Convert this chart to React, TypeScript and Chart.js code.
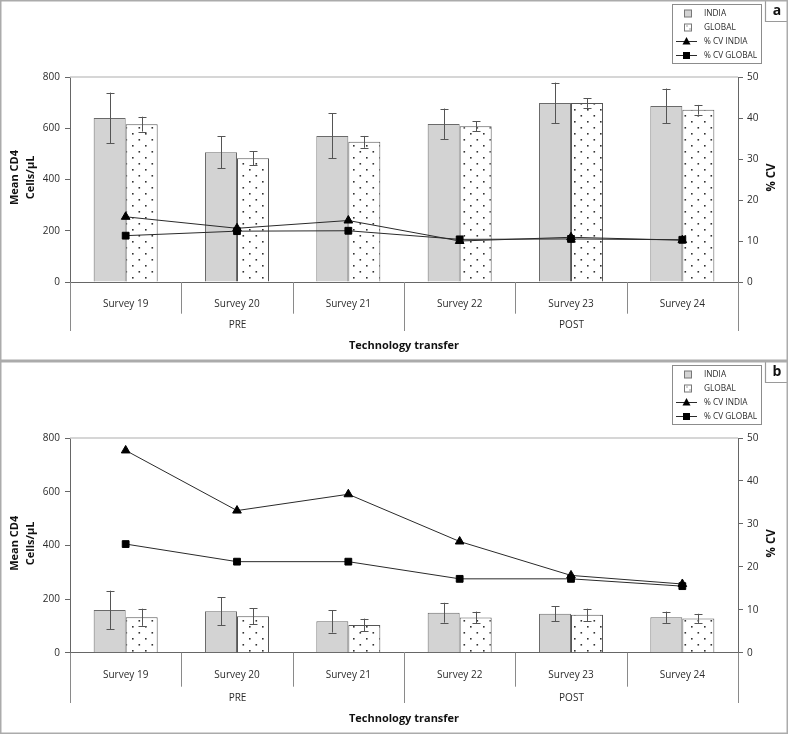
import React, { useEffect, useRef } from "react";
import { Chart, registerables } from "chart.js";

Chart.register(...registerables);

// ---------- data ----------
const categories = ["Survey 19", "Survey 20", "Survey 21", "Survey 22", "Survey 23", "Survey 24"];
const groupLabels = ["PRE", "POST"];
const groupSpans = [3, 3];
const leftTicks = { min: 0, max: 800, step: 200 };
const rightTicks = { min: 0, max: 50, step: 10 };
const legendLabels = ["INDIA", "GLOBAL", "% CV INDIA", "% CV GLOBAL"];

// panel a
const aIndiaMean = [640, 506, 570, 617, 699, 687];
const aIndiaErr = [99, 62, 88, 60, 79, 68];
const aGlobalMean = [616, 483, 547, 608, 699, 672];
const aGlobalErr = [29, 27, 23, 20, 19, 19];
const aCvIndia = [15.9, 13.1, 15.0, 10.0, 10.9, 10.2];
const aCvGlobal = [11.3, 12.4, 12.5, 10.4, 10.5, 10.3];

// panel b
const bIndiaMean = [159, 154, 117, 149, 145, 132];
const bIndiaErr = [72, 52, 42, 37, 28, 21];
const bGlobalMean = [132, 136, 103, 131, 141, 127];
const bGlobalErr = [32, 30, 24, 22, 23, 18];
const bCvIndia = [47.1, 33.1, 36.9, 25.9, 18.0, 16.0];
const bCvGlobal = [25.3, 21.2, 21.2, 17.2, 17.2, 15.5];

const FONT = "'Open Sans', 'DejaVu Sans', sans-serif";
const INDIA_FILL = "#d3d3d3";
const BAR_BORDER = "#6a6a6a";
const LINE_COLOR = "#2a2a2a";
const AXIS_COLOR = "#666666";
const TEXT_COLOR = "#2b2b2b";

function makeDotPattern(ctx: CanvasRenderingContext2D): CanvasPattern | string {
  const c = document.createElement("canvas");
  c.width = 13;
  c.height = 12;
  const p = c.getContext("2d");
  if (!p) return "#fff";
  p.fillStyle = "#ffffff";
  p.fillRect(0, 0, 13, 12);
  p.fillStyle = "#333333";
  p.fillRect(2, 1, 1.6, 1.6);
  p.fillRect(8.5, 7, 1.6, 1.6);
  return ctx.createPattern(c, "repeat") || "#fff";
}

type PanelCfg = {
  letter: string;
  height: number;
  padTop: number;
  xHeight: number;
  shortLen: number;
  longLen: number;
  groupDy: number;
  titleDy: number;
  indiaMean: number[];
  indiaErr: number[];
  globalMean: number[];
  globalErr: number[];
  cvIndia: number[];
  cvGlobal: number[];
};

function Panel({ cfg }: { cfg: PanelCfg }) {
  const ref = useRef<HTMLCanvasElement | null>(null);

  useEffect(() => {
    const canvas = ref.current;
    if (!canvas) return;
    const ctx0 = canvas.getContext("2d");
    if (!ctx0) return;
    const pattern = makeDotPattern(ctx0);
    const errs = [cfg.indiaErr, cfg.globalErr];

    const decor = {
      id: "decor",
      afterDatasetDraw(chart: any, args: any) {
        const meta = args.meta;
        if (meta.type !== "bar") return;
        const err = errs[args.index];
        if (!err) return;
        const ctx = chart.ctx;
        const ys = chart.scales.y;
        ctx.save();
        ctx.strokeStyle = "#555555";
        ctx.lineWidth = 1;
        meta.data.forEach((bar: any, i: number) => {
          const v = chart.data.datasets[args.index].data[i];
          const yTop = ys.getPixelForValue(v + err[i]);
          const yBot = ys.getPixelForValue(v - err[i]);
          const x = Math.round(bar.x) + 0.5;
          ctx.beginPath();
          ctx.moveTo(x, yTop);
          ctx.lineTo(x, yBot);
          ctx.moveTo(x - 4, Math.round(yTop) + 0.5);
          ctx.lineTo(x + 4, Math.round(yTop) + 0.5);
          ctx.moveTo(x - 4, Math.round(yBot) + 0.5);
          ctx.lineTo(x + 4, Math.round(yBot) + 0.5);
          ctx.stroke();
        });
        ctx.restore();
      },
      afterDraw(chart: any) {
        const ctx = chart.ctx;
        const ca = chart.chartArea;
        const xs = chart.scales.x;
        const n = categories.length;
        ctx.save();
        // top light line
        ctx.strokeStyle = "#c9c9c9";
        ctx.lineWidth = 1.5;
        ctx.beginPath();
        ctx.moveTo(ca.left, ca.top);
        ctx.lineTo(ca.right, ca.top);
        ctx.stroke();

        // category boundaries
        const bx: number[] = [];
        for (let i = 0; i <= n; i++) {
          let x;
          if (i === 0) x = ca.left;
          else if (i === n) x = ca.right;
          else x = (xs.getPixelForValue(i - 1) + xs.getPixelForValue(i)) / 2;
          bx.push(Math.round(x) + 0.5);
        }
        const groupIdx: number[] = [0];
        let acc = 0;
        groupSpans.forEach((s) => {
          acc += s;
          groupIdx.push(acc);
        });
        ctx.strokeStyle = "#8a8a8a";
        ctx.lineWidth = 1;
        bx.forEach((x, i) => {
          const long = groupIdx.includes(i);
          ctx.beginPath();
          ctx.moveTo(x, ca.bottom);
          ctx.lineTo(x, ca.bottom + (long ? cfg.longLen : cfg.shortLen));
          ctx.stroke();
        });
        // group labels
        ctx.fillStyle = TEXT_COLOR;
        ctx.font = `10px ${FONT}`;
        ctx.textAlign = "center";
        ctx.textBaseline = "middle";
        groupLabels.forEach((g, gi) => {
          const x0 = bx[groupIdx[gi]];
          const x1 = bx[groupIdx[gi + 1]];
          ctx.fillText(g, (x0 + x1) / 2, ca.bottom + cfg.groupDy);
        });
        // x title
        ctx.fillStyle = "#111";
        ctx.font = `bold 11px ${FONT}`;
        ctx.fillText("Technology transfer", (ca.left + ca.right) / 2, ca.bottom + cfg.titleDy);

        // y titles
        const cy = (ca.top + ca.bottom) / 2 - 2;
        ctx.save();
        ctx.translate(23, cy);
        ctx.rotate(-Math.PI / 2);
        ctx.font = `bold 11px ${FONT}`;
        ctx.fillText("Mean CD4", 0, -8);
        ctx.fillText("Cells/\u00b5L", 0, 8);
        ctx.restore();
        ctx.save();
        ctx.translate(772, cy);
        ctx.rotate(-Math.PI / 2);
        ctx.font = `bold 11.5px ${FONT}`;
        ctx.fillText("% CV", 0, 0);
        ctx.restore();

        // legend
        const lx = 672.5, ly = 4.5, lw = 89, lh = 59;
        ctx.strokeStyle = "#8c8c8c";
        ctx.lineWidth = 1;
        ctx.strokeRect(lx, ly, lw, lh);
        const rows = [13.5, 27.5, 41.5, 55.5];
        ctx.textAlign = "left";
        ctx.font = `8.3px ${FONT}`;
        ctx.fillStyle = TEXT_COLOR;
        legendLabels.forEach((t, i) => ctx.fillText(t, 704, rows[i] + 0.5));
        // swatches
        ctx.fillStyle = INDIA_FILL;
        ctx.fillRect(684.5, rows[0] - 3.5, 7, 7);
        ctx.strokeStyle = "#777";
        ctx.strokeRect(684.5, rows[0] - 3.5, 7, 7);
        ctx.fillStyle = "#fff";
        ctx.fillRect(684.5, rows[1] - 3.5, 7, 7);
        ctx.strokeRect(684.5, rows[1] - 3.5, 7, 7);
        ctx.fillStyle = "#444";
        ctx.fillRect(686.5, rows[1] - 2, 1, 1);
        ctx.fillRect(689.5, rows[1] + 1, 1, 1);
        // line symbols
        ctx.strokeStyle = LINE_COLOR;
        ctx.fillStyle = "#000";
        [rows[2], rows[3]].forEach((ry, k) => {
          ctx.beginPath();
          ctx.moveTo(676, ry);
          ctx.lineTo(697, ry);
          ctx.stroke();
          if (k === 0) {
            ctx.beginPath();
            ctx.moveTo(686.5, ry - 4.5);
            ctx.lineTo(690.5, ry + 3);
            ctx.lineTo(682.5, ry + 3);
            ctx.closePath();
            ctx.fill();
          } else {
            ctx.fillRect(683, ry - 3.5, 7, 7);
          }
        });

        // letter box
        ctx.strokeStyle = "#9a9a9a";
        ctx.lineWidth = 1.2;
        ctx.beginPath();
        ctx.moveTo(765.5, 0);
        ctx.lineTo(765.5, 21.5);
        ctx.lineTo(788, 21.5);
        ctx.stroke();
        ctx.fillStyle = "#111";
        ctx.font = `bold 14px ${FONT}`;
        ctx.textAlign = "center";
        ctx.fillText(cfg.letter, 777, 11);

        // panel border
        ctx.strokeStyle = "#ababab";
        ctx.lineWidth = 1.5;
        ctx.strokeRect(0.75, 0.75, chart.width - 1.5, chart.height - 1.5);
        ctx.restore();
      },
    };

    const tickFont = { family: FONT, size: 10 };
    const chart = new Chart(canvas, {
      type: "bar",
      data: {
        labels: categories,
        datasets: [
          {
            type: "bar",
            label: legendLabels[0],
            data: cfg.indiaMean,
            backgroundColor: INDIA_FILL,
            borderColor: BAR_BORDER,
            borderWidth: 1,
            yAxisID: "y",
            order: 2,
            barPercentage: 1,
            categoryPercentage: 0.575,
          },
          {
            type: "bar",
            label: legendLabels[1],
            data: cfg.globalMean,
            backgroundColor: pattern as any,
            borderColor: "#555555",
            borderWidth: 1,
            yAxisID: "y",
            order: 2,
            barPercentage: 1,
            categoryPercentage: 0.575,
          },
          {
            type: "line",
            label: legendLabels[2],
            data: cfg.cvIndia,
            yAxisID: "y1",
            borderColor: LINE_COLOR,
            borderWidth: 1,
            pointStyle: "triangle",
            pointRadius: 5,
            pointBackgroundColor: "#000",
            pointBorderColor: "#000",
            pointBorderWidth: 1,
            order: 1,
            tension: 0,
          } as any,
          {
            type: "line",
            label: legendLabels[3],
            data: cfg.cvGlobal,
            yAxisID: "y1",
            borderColor: LINE_COLOR,
            borderWidth: 1,
            pointStyle: "rect",
            pointRadius: 4.8,
            pointBackgroundColor: "#000",
            pointBorderColor: "#000",
            pointBorderWidth: 1,
            order: 1,
            tension: 0,
          } as any,
        ],
      },
      options: {
        responsive: false,
        animation: false,
        devicePixelRatio: 1,
        layout: { padding: { top: cfg.padTop, left: 0, right: 0, bottom: 0 } },
        plugins: { legend: { display: false }, tooltip: { enabled: false } },
        scales: {
          x: {
            type: "category",
            offset: true,
            grid: { display: false },
            border: { display: true, color: AXIS_COLOR, width: 1 },
            ticks: { font: tickFont, color: TEXT_COLOR, padding: 8, maxRotation: 0, autoSkip: false },
            afterFit: (s: any) => {
              s.height = cfg.xHeight;
            },
          },
          y: {
            position: "left",
            min: leftTicks.min,
            max: leftTicks.max,
            ticks: { stepSize: leftTicks.step, font: tickFont, color: TEXT_COLOR, padding: 5 },
            grid: { drawOnChartArea: false, drawTicks: true, tickLength: 5, color: AXIS_COLOR },
            border: { color: AXIS_COLOR, width: 1 },
            afterFit: (s: any) => {
              s.width = 70;
            },
          },
          y1: {
            position: "right",
            min: rightTicks.min,
            max: rightTicks.max,
            ticks: { stepSize: rightTicks.step, font: tickFont, color: TEXT_COLOR, padding: 4 },
            grid: { drawOnChartArea: false, drawTicks: true, tickLength: 5, color: AXIS_COLOR },
            border: { color: AXIS_COLOR, width: 1 },
            afterFit: (s: any) => {
              s.width = 50;
            },
          },
        },
      } as any,
      plugins: [decor],
    });
    return () => chart.destroy();
  }, [cfg]);

  return <canvas ref={ref} width={788} height={cfg.height} style={{ display: "block" }} />;
}

const panelA: PanelCfg = {
  letter: "a",
  height: 361,
  padTop: 77,
  xHeight: 79,
  shortLen: 31.7,
  longLen: 49,
  groupDy: 43,
  titleDy: 64,
  indiaMean: aIndiaMean,
  indiaErr: aIndiaErr,
  globalMean: aGlobalMean,
  globalErr: aGlobalErr,
  cvIndia: aCvIndia,
  cvGlobal: aCvGlobal,
};

const panelB: PanelCfg = {
  letter: "b",
  height: 373,
  padTop: 77,
  xHeight: 81.3,
  shortLen: 34,
  longLen: 50.3,
  groupDy: 45,
  titleDy: 66.3,
  indiaMean: bIndiaMean,
  indiaErr: bIndiaErr,
  globalMean: bGlobalMean,
  globalErr: bGlobalErr,
  cvIndia: bCvIndia,
  cvGlobal: bCvGlobal,
};

export default function App() {
  return (
    <div style={{ position: "fixed", left: 0, top: 0, width: 788, height: 734, background: "#fff" }}>
      <Panel cfg={panelA} />
      <Panel cfg={panelB} />
    </div>
  );
}
